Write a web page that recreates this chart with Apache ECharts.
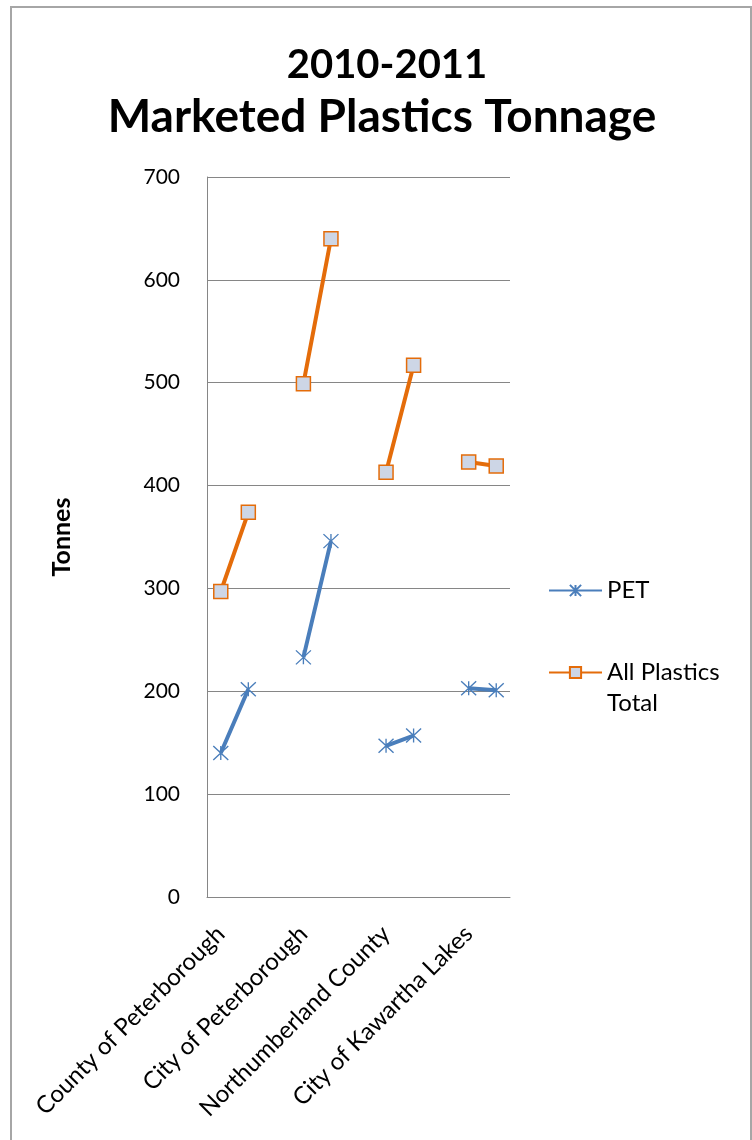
<!DOCTYPE html>
<html>
<head>
<meta charset="utf-8">
<script src="https://cdn.jsdelivr.net/npm/echarts@6/dist/echarts.min.js"></script>
<style>
html,body{margin:0;padding:0;background:#fff;}
#chart{width:752px;height:1140px;}
</style>
</head>
<body>
<div id="chart"></div>
<script>
// Category slots: each group has a 2010 and 2011 point, followed by an empty gap slot
const slotLabels = ['County of Peterborough', '', '', 'City of Peterborough', '', '', 'Northumberland County', '', '', 'City of Kawartha Lakes', ''];
const petValues = [140, 202, null, 233, 346, null, 147, 157, null, 203, 201];
const allPlasticsValues = [297, 374, null, 499, 640, null, 413, 517, null, 423, 419];
const yTicks = [0, 100, 200, 300, 400, 500, 600, 700];
const seriesNames = ['PET', 'All Plastics Total'];

const FONT = 'Lato';
const chart = echarts.init(document.getElementById('chart'), null, {renderer: 'canvas'});
chart.setOption({
  backgroundColor: '#ffffff',
  animation: false,
  graphic: [{
    type: 'rect',
    shape: {x: 11, y: 7, width: 740, height: 1150},
    style: {fill: 'none', stroke: '#a6a6a6', lineWidth: 2},
    silent: true
  }],
  title: [{
    text: '2010-2011',
    left: 382, top: 40, textAlign: 'center',
    textStyle: {fontFamily: FONT, fontWeight: 'bold', fontSize: 40, color: '#000'}
  }, {
    text: 'Marketed Plastics Tonnage',
    left: 377, top: 89, textAlign: 'center',
    textStyle: {fontFamily: FONT, fontWeight: 'bold', fontSize: 46, color: '#000'}
  }],
  legend: {
    orient: 'vertical',
    left: 543, top: 570,
    itemWidth: 53, itemHeight: 14, itemGap: 20,
    textStyle: {fontFamily: FONT, fontSize: 24, color: '#000', lineHeight: 31},
    data: [{name: seriesNames[0]}, {name: seriesNames[1]}],
    formatter: function (n) { return n === 'All Plastics Total' ? '\nAll Plastics\nTotal' : n; }
  },
  grid: {left: 207, right: 242, top: 177, bottom: 243, containLabel: false},
  xAxis: {
    type: 'category',
    data: slotLabels,
    boundaryGap: true,
    axisLine: {show: true, lineStyle: {color: '#868686', width: 1}},
    axisTick: {show: false},
    axisLabel: {interval: 0, rotate: 45, margin: 33, fontFamily: FONT, fontSize: 24, color: '#000'},
    splitLine: {show: false}
  },
  yAxis: {
    type: 'value',
    min: yTicks[0], max: yTicks[yTicks.length - 1], interval: 100,
    name: 'Tonnes',
    nameLocation: 'middle',
    nameGap: 133,
    nameRotate: 90,
    nameTextStyle: {fontFamily: FONT, fontWeight: 'bold', fontSize: 25, color: '#000'},
    axisLine: {show: true, lineStyle: {color: '#868686', width: 1}},
    axisTick: {show: false},
    axisLabel: {margin: 27, fontFamily: FONT, fontSize: 21, color: '#000'},
    splitLine: {show: true, lineStyle: {color: '#868686', width: 1}}
  },
  series: [{
    name: seriesNames[0],
    type: 'line',
    data: petValues,
    connectNulls: false,
    symbol: 'path://M0,0L10,10M10,0L0,10M5,0L5,10',
    symbolSize: [15, 14],
    itemStyle: {color: '#4a7ebb', borderColor: '#4a7ebb', borderWidth: 1.3},
    lineStyle: {color: '#4a7ebb', width: 4},
    z: 3
  }, {
    name: seriesNames[1],
    type: 'line',
    data: allPlasticsValues,
    connectNulls: false,
    symbol: 'rect',
    symbolSize: 14,
    itemStyle: {color: '#cdd6e6', borderColor: '#e46c0a', borderWidth: 1.5},
    lineStyle: {color: '#e46c0a', width: 4},
    z: 4
  }]
});
</script>
</body>
</html>
